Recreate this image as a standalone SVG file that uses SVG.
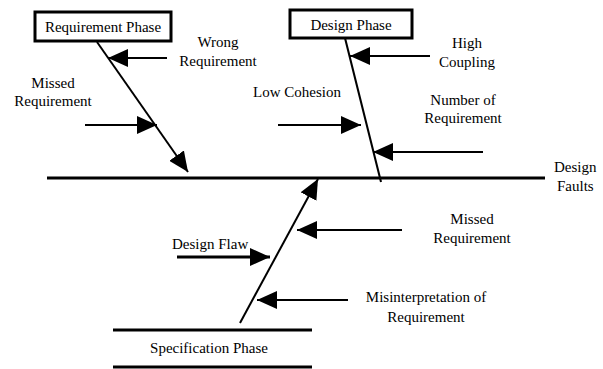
<svg xmlns="http://www.w3.org/2000/svg" width="603" height="369" viewBox="0 0 603 369">
<style>
text{font-family:"Liberation Serif","Times New Roman",serif;font-size:15px;fill:#000}
.c{text-anchor:middle}
.box{fill:#fff;stroke:#000;stroke-width:3}
.ln{stroke:#000;stroke-width:2;fill:none}
.thick{stroke:#000;stroke-width:3;fill:none}
</style>
<defs>
<marker id="ah" viewBox="0 0 20 18" refX="20" refY="9" markerWidth="20" markerHeight="18" markerUnits="userSpaceOnUse" orient="auto">
<path d="M0,0 L20,9 L0,18 z" fill="#000"/>
</marker>
</defs>
<g id="connectors">
<line class="thick" x1="47" y1="178" x2="545" y2="178"/>
<line class="ln" x1="97" y1="42" x2="188" y2="172" marker-end="url(#ah)"/>
<line class="ln" x1="345" y1="38" x2="381" y2="182"/>
<line class="ln" x1="240" y1="323" x2="318" y2="179" marker-end="url(#ah)"/>
<line class="ln" x1="167" y1="58" x2="108" y2="58" marker-end="url(#ah)"/>
<line class="ln" x1="85" y1="125" x2="157" y2="125" marker-end="url(#ah)"/>
<line class="ln" x1="430" y1="56" x2="350" y2="56" marker-end="url(#ah)"/>
<line class="ln" x1="278" y1="125" x2="361" y2="125" marker-end="url(#ah)"/>
<line class="ln" x1="483" y1="152" x2="373" y2="152" marker-end="url(#ah)"/>
<line class="ln" x1="402" y1="230" x2="297" y2="230" marker-end="url(#ah)"/>
<line class="thick" x1="177" y1="257" x2="270" y2="257" marker-end="url(#ah)"/>
<line class="ln" x1="348" y1="300" x2="257" y2="300" marker-end="url(#ah)"/>
</g>
<g id="requirement-phase">
<rect class="box" x="35" y="12" width="136" height="29"/>
<text class="c" x="103" y="32">Requirement Phase</text>
</g>
<g id="design-phase">
<rect class="box" x="290" y="10" width="122" height="28"/>
<text class="c" x="351" y="30">Design Phase</text>
</g>
<g id="specification-phase">
<line class="thick" x1="113" y1="330" x2="312" y2="330"/>
<line class="thick" x1="113" y1="367" x2="312" y2="367"/>
<text class="c" x="209" y="353">Specification Phase</text>
</g>
<g id="design-faults">
<text x="554" y="172">Design</text>
<text x="557" y="191">Faults</text>
</g>
<g id="wrong-requirement">
<text class="c" x="218" y="47">Wrong</text>
<text class="c" x="218" y="66">Requirement</text>
</g>
<g id="missed-requirement-1">
<text class="c" x="53" y="88">Missed</text>
<text class="c" x="53" y="106">Requirement</text>
</g>
<g id="high-coupling">
<text class="c" x="467" y="48">High</text>
<text class="c" x="467" y="67">Coupling</text>
</g>
<g id="low-cohesion">
<text x="253" y="97">Low Cohesion</text>
</g>
<g id="number-of-requirement">
<text class="c" x="463" y="105">Number of</text>
<text class="c" x="463" y="123">Requirement</text>
</g>
<g id="missed-requirement-2">
<text class="c" x="472" y="224">Missed</text>
<text class="c" x="472" y="243">Requirement</text>
</g>
<g id="design-flaw">
<text x="172" y="249">Design Flaw</text>
</g>
<g id="misinterpretation">
<text class="c" x="426" y="302">Misinterpretation of</text>
<text class="c" x="426" y="322">Requirement</text>
</g>
</svg>
